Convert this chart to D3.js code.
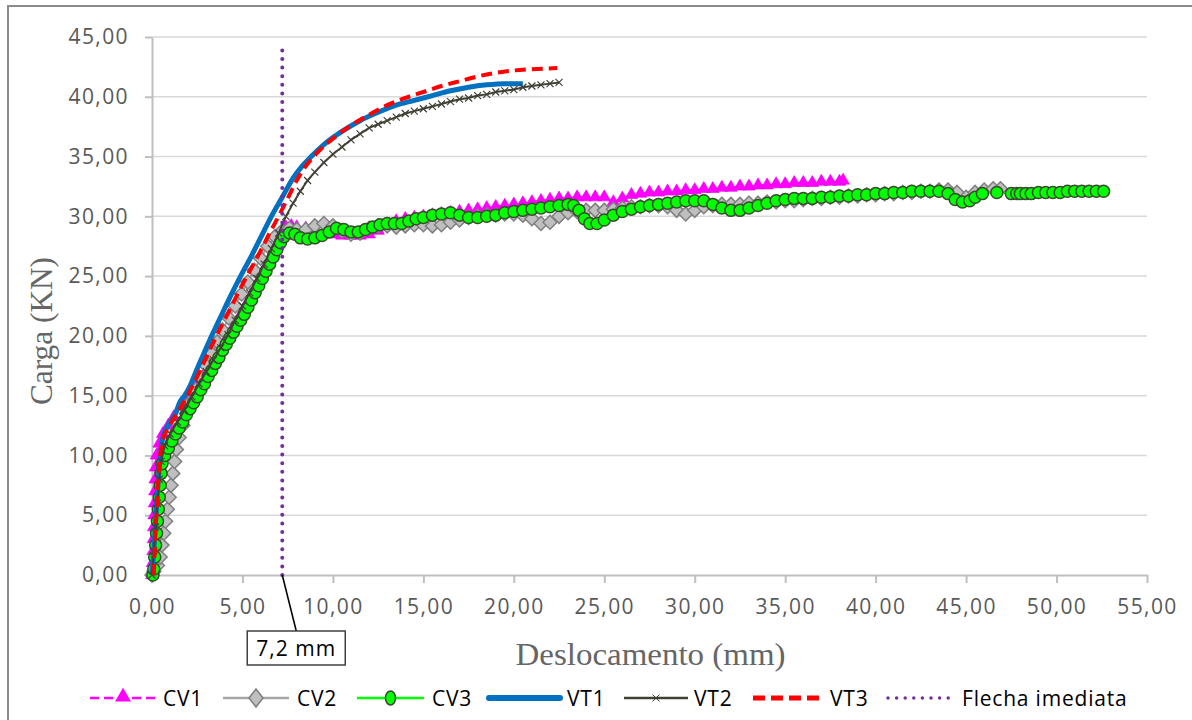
<!DOCTYPE html>
<html><head><meta charset="utf-8">
<script src="https://cdn.jsdelivr.net/npm/d3@7"></script>
<style>body{margin:0;background:#fff}</style>
</head><body>
<svg id="chart" width="1192" height="720"></svg>
<script>
// ---------- DATA ----------
const xTicks = [0,5,10,15,20,25,30,35,40,45,50,55];
const yTicks = [0,5,10,15,20,25,30,35,40,45];
const seriesNames = ["CV1","CV2","CV3","VT1","VT2","VT3","Flecha imediata"];
const flechaX = 7.2;
const flechaY = [0,44];
const flechaLabel = "7,2 mm";

const CV1 = [[0,0],[0.03,1],[0.06,2],[0.08,3],[0.1,4],[0.12,5],[0.14,6],[0.16,7],[0.18,8],[0.2,9],[0.25,10],[0.4,11],[0.6,11.8],[0.9,12.5],[1.2,13.2],[1.6,14.1],[2.0,15.0],[2.4,15.8],[2.8,16.6],[3.2,17.5],[3.6,18.5],[4.0,19.5],[4.4,20.5],[4.8,21.5],[5.2,22.6],[5.6,23.7],[6.0,24.9],[6.4,26.1],[6.8,27.4],[7.1,28.5],[7.4,29.1],[7.7,29.2],[8.0,29.1],[8.5,29.0],[9.0,28.8],[9.5,28.6],[10.0,28.5],[10.5,28.4],[11.0,28.4],[11.5,28.4],[12.0,28.5],[12.5,28.8],[13.0,29.2],[13.5,29.6],[14.0,29.8],[14.5,29.9],[15.0,30.0],[15.5,30.1],[16.0,30.2],[16.5,30.3],[17.0,30.4],[17.5,30.5],[18.0,30.6],[18.5,30.7],[19.0,30.8],[19.5,30.9],[20.0,31.0],[20.5,31.1],[21.0,31.2],[21.5,31.3],[22.0,31.4],[22.5,31.5],[23.0,31.5],[23.5,31.6],[24.0,31.6],[24.5,31.6],[25.0,31.6],[25.5,31.2],[26.0,31.5],[26.5,31.8],[27.0,31.9],[27.5,32.0],[28.0,32.0],[28.5,32.1],[29.0,32.1],[29.5,32.2],[30.0,32.2],[30.5,32.3],[31.0,32.3],[31.5,32.4],[32.0,32.4],[32.5,32.5],[33.0,32.5],[33.5,32.6],[34.0,32.6],[34.5,32.7],[35.0,32.7],[35.5,32.8],[36.0,32.8],[36.5,32.8],[37.0,32.9],[37.5,32.9],[38.0,32.9],[38.2,33.0]];

const CV2 = [[0,0],[0.1,0.3],[0.3,0.8],[0.45,1.5],[0.55,2.5],[0.65,3.5],[0.75,4.5],[0.85,5.5],[0.95,6.5],[1.05,7.5],[1.15,8.5],[1.25,9.5],[1.35,10.5],[1.5,11.5],[1.7,12.5],[1.9,13.5],[2.15,14.5],[2.4,15.5],[2.7,16.5],[3.0,17.5],[3.3,18.5],[3.6,19.5],[3.9,20.5],[4.25,21.5],[4.6,22.5],[4.95,23.5],[5.3,24.5],[5.65,25.5],[6.0,26.5],[6.4,27.5],[6.8,28.3],[7.2,28.8],[7.6,29.0],[8.0,28.9],[8.5,28.9],[9.0,29.2],[9.5,29.4],[10.0,29.2],[10.5,28.8],[11.0,28.5],[11.5,28.6],[12.0,29.0],[12.5,29.2],[13.0,29.2],[13.5,29.1],[14.0,29.2],[14.5,29.3],[15.0,29.3],[15.5,29.2],[16.0,29.3],[16.5,29.5],[17.0,29.7],[17.5,29.9],[18.0,30.0],[18.5,30.1],[19.0,30.1],[19.5,30.2],[20.0,30.2],[20.5,30.1],[21.0,29.8],[21.5,29.4],[22.0,29.5],[22.5,30.0],[23.0,30.3],[23.5,30.4],[24.0,30.5],[24.5,30.5],[25.0,30.5],[25.5,30.6],[26.0,30.7],[26.5,30.8],[27.0,30.8],[27.5,30.9],[28.0,30.9],[28.5,30.8],[29.0,30.5],[29.5,30.2],[30.0,30.5],[30.5,30.8],[31.0,30.9],[31.5,31.0],[32.0,31.0],[32.5,31.0],[33.0,31.1],[33.5,31.1],[34.0,31.2],[34.5,31.2],[35.0,31.3],[35.5,31.3],[36.0,31.4],[36.5,31.5],[37.0,31.5],[37.5,31.6],[38.0,31.6],[38.5,31.7],[39.0,31.7],[39.5,31.8],[40.0,31.8],[40.5,31.9],[41.0,31.9],[41.5,32.0],[42.0,32.0],[42.5,32.1],[43.0,32.1],[43.5,32.2],[44.0,32.2],[44.5,32.0],[45.0,31.6],[45.5,32.0],[46.0,32.2],[46.5,32.3],[46.9,32.3]];

const CV3 = [[0.05,0],[0.1,0.5],[0.15,1.5],[0.2,2.5],[0.25,3.5],[0.3,4.5],[0.35,5.5],[0.4,6.5],[0.45,7.5],[0.5,8.5],[0.55,9.3],[0.7,10.0],[0.9,10.6],[1.1,11.2],[1.3,11.8],[1.5,12.3],[1.7,12.8],[1.9,13.4],[2.1,13.9],[2.3,14.4],[2.5,14.9],[2.7,15.5],[2.9,16.0],[3.1,16.6],[3.3,17.1],[3.5,17.7],[3.7,18.2],[3.9,18.8],[4.1,19.3],[4.3,19.8],[4.5,20.3],[4.7,20.8],[4.9,21.3],[5.1,21.8],[5.3,22.4],[5.5,23.0],[5.7,23.6],[5.9,24.2],[6.1,24.8],[6.3,25.4],[6.5,26.0],[6.7,26.6],[6.9,27.2],[7.1,27.8],[7.3,28.3],[7.6,28.6],[7.9,28.5],[8.2,28.2],[8.6,28.1],[9.0,28.2],[9.4,28.4],[9.8,28.7],[10.2,29.0],[10.6,28.9],[11.0,28.7],[11.4,28.7],[11.8,28.9],[12.2,29.1],[12.6,29.3],[13.0,29.4],[13.4,29.4],[13.8,29.4],[14.2,29.6],[14.6,29.8],[15.0,29.9],[15.5,30.1],[16.0,30.2],[16.5,30.3],[17.0,30.1],[17.5,29.9],[18.0,29.9],[18.5,30.0],[19.0,30.1],[19.5,30.3],[20.0,30.4],[20.5,30.5],[21.0,30.6],[21.5,30.7],[22.0,30.8],[22.5,30.9],[23.0,31.0],[23.3,30.9],[23.6,30.5],[23.9,29.8],[24.2,29.4],[24.6,29.4],[25.0,29.7],[25.5,30.1],[26.0,30.4],[26.5,30.6],[27.0,30.8],[27.5,30.9],[28.0,31.0],[28.5,31.1],[29.0,31.2],[29.5,31.3],[30.0,31.3],[30.5,31.3],[31.0,31.0],[31.5,30.7],[32.0,30.5],[32.5,30.5],[33.0,30.7],[33.5,30.9],[34.0,31.1],[34.5,31.3],[35.0,31.4],[35.5,31.5],[36.0,31.5],[36.5,31.5],[37.0,31.6],[37.5,31.6],[38.0,31.7],[38.5,31.7],[39.0,31.8],[39.5,31.8],[40.0,31.9],[40.5,31.9],[41.0,32.0],[41.5,32.0],[42.0,32.1],[42.5,32.1],[43.0,32.1],[43.5,32.1],[44.0,31.9],[44.4,31.4],[44.8,31.2],[45.2,31.3],[45.5,31.6],[45.9,31.9],[46.7,32.0],[47.5,31.9],[47.8,31.9],[48.0,31.9],[48.3,31.9],[48.6,31.9],[49.0,32.0],[49.4,32.0],[49.8,32.0],[50.2,32.0],[50.6,32.1],[51.0,32.1],[51.4,32.1],[51.8,32.1],[52.2,32.1],[52.6,32.1]];

const VT1 = [[0,0],[0.1,2],[0.2,4.5],[0.3,7],[0.4,9],[0.5,10.5],[0.6,11.5],[0.8,12.3],[1.0,12.8],[1.3,13.5],[1.55,14.5],[1.8,15.0],[2.1,15.8],[2.4,16.9],[2.8,18.3],[3.3,20.0],[3.8,21.6],[4.3,23.2],[4.9,25.0],[5.5,26.7],[6.0,28.2],[6.6,30.0],[7.2,31.6],[7.8,33.2],[8.3,34.2],[8.8,35.0],[9.5,36.0],[10.5,37.1],[11.5,38.0],[12.5,38.7],[13.5,39.3],[14.5,39.7],[15.5,40.1],[16.5,40.5],[17.5,40.8],[18.5,41.0],[19.5,41.1],[20.5,41.1]];

const VT2 = [[0,0],[0.1,2],[0.2,4],[0.3,6],[0.4,8],[0.5,9.5],[0.7,10.8],[1.0,11.8],[1.4,12.8],[1.8,13.8],[2.2,14.9],[2.6,16.0],[3.0,17.0],[3.4,18.0],[3.8,19.0],[4.2,20.1],[4.6,21.3],[5.0,22.5],[5.4,23.6],[5.8,24.8],[6.2,26.0],[6.6,27.3],[7.0,28.6],[7.4,30.0],[7.8,31.1],[8.2,32.1],[8.6,33.0],[9.0,33.7],[9.5,34.5],[10.0,35.2],[10.5,35.8],[11.0,36.4],[11.5,36.9],[12.0,37.4],[12.5,37.7],[13.0,38.0],[13.5,38.3],[14.0,38.6],[14.5,38.8],[15.0,39.0],[15.5,39.2],[16.0,39.4],[16.5,39.6],[17.0,39.8],[17.5,39.9],[18.0,40.1],[18.5,40.2],[19.0,40.4],[19.5,40.5],[20.0,40.6],[20.5,40.8],[21.0,40.9],[21.5,41.0],[22.0,41.1],[22.5,41.2]];

const VT3 = [[0.1,0],[0.15,2],[0.2,4],[0.3,6],[0.35,8],[0.45,10],[0.6,11.3],[0.9,12.3],[1.3,13.3],[1.7,14.3],[2.1,15.4],[2.5,16.6],[3.0,18.2],[3.5,19.8],[4.0,21.3],[4.5,22.8],[5.0,24.3],[5.5,25.7],[6.0,27.1],[6.5,28.6],[7.0,30.0],[7.5,31.5],[8.0,33.0],[8.5,34.2],[9.0,35.1],[10.0,36.5],[11.0,37.6],[12.0,38.5],[13.0,39.3],[14.0,39.9],[15.0,40.4],[16.0,40.9],[17.0,41.3],[18.0,41.7],[19.0,42.0],[20.0,42.2],[21.0,42.3],[22.4,42.4]];

// ---------- CHART ----------
const svg = d3.select("#chart");
const W = 1192, H = 720;
const plot = {left:152, right:1147, top:37, bottom:575};
const x = d3.scaleLinear().domain([0,55]).range([plot.left, plot.right]);
const y = d3.scaleLinear().domain([0,45]).range([plot.bottom, plot.top]);
const fmt = v => d3.format(".2f")(v).replace(".", ",");
const tickFont = "'Open Sans', 'Noto Sans', sans-serif";
const serif = "'Liberation Serif', 'DejaVu Serif', serif";

svg.append("rect").attr("x",0).attr("y",0).attr("width",W).attr("height",H).attr("fill","#fff");
svg.append("rect").attr("x",8).attr("y",6).attr("width",W+20).attr("height",H+20)
  .attr("fill","none").attr("stroke","#8c8c8c").attr("stroke-width",2);

// gridlines
svg.append("g").selectAll("line").data(yTicks.filter(d=>d>0)).join("line")
  .attr("x1",plot.left).attr("x2",plot.right).attr("y1",d=>y(d)).attr("y2",d=>y(d))
  .attr("stroke","#d9d9d9").attr("stroke-width",1.5);

// axes
const xAxis = svg.append("g").attr("transform",`translate(0,${plot.bottom})`)
  .call(d3.axisBottom(x).tickValues(xTicks).tickFormat(fmt).tickSize(8).tickSizeOuter(0).tickPadding(16));
const yAxis = svg.append("g").attr("transform",`translate(${plot.left},0)`)
  .call(d3.axisLeft(y).tickValues(yTicks).tickFormat(fmt).tickSize(7).tickSizeOuter(0).tickPadding(16));
[xAxis,yAxis].forEach(a=>{
  a.select(".domain").attr("stroke","#bfbfbf").attr("stroke-width",2);
  a.selectAll(".tick line").attr("stroke","#bfbfbf").attr("stroke-width",2);
  a.selectAll(".tick text").attr("fill","#595959").style("font-family",tickFont)
    .style("font-size","21px").style("letter-spacing","1.4px");
});

// axis titles
svg.append("text").attr("x",(plot.left+plot.right)/2+1).attr("y",665).attr("text-anchor","middle")
  .attr("textLength",270).attr("lengthAdjust","spacingAndGlyphs")
  .style("font-family",serif).style("font-size","32px").attr("fill","#666").text("Deslocamento (mm)");
svg.append("text").attr("transform","translate(52,331) rotate(-90)").attr("text-anchor","middle")
  .attr("textLength",148).attr("lengthAdjust","spacingAndGlyphs")
  .style("font-family",serif).style("font-size","32px").attr("fill","#666").text("Carga (KN)");

const line = d3.line().x(d=>x(d[0])).y(d=>y(d[1]));
const smooth = d3.line().x(d=>x(d[0])).y(d=>y(d[1])).curve(d3.curveMonotoneX);
const g = svg.append("g");

// marker shapes
const triPath = d3.symbol(d3.symbolTriangle, 70)();
const diaPath = "M0,-7L7,0L0,7L-7,0Z";
const crossPath = "M-3.5,-3.5L3.5,3.5M-3.5,3.5L3.5,-3.5";

// CV1
g.append("path").datum(CV1).attr("d",line).attr("fill","none").attr("stroke","#ff00ff")
  .attr("stroke-width",2).attr("stroke-dasharray","8,4");
g.append("g").selectAll("path").data(CV1).join("path").attr("d",triPath)
  .attr("transform",d=>`translate(${x(d[0])},${y(d[1])})`).attr("fill","#ff00ff").attr("stroke","#e600e6").attr("stroke-width",0.6);
// CV2
g.append("path").datum(CV2).attr("d",line).attr("fill","none").attr("stroke","#a6a6a6").attr("stroke-width",2);
g.append("g").selectAll("path").data(CV2).join("path").attr("d",diaPath)
  .attr("transform",d=>`translate(${x(d[0])},${y(d[1])})`).attr("fill","#bfbfbf").attr("stroke","#7f7f7f").attr("stroke-width",1.5);
// CV3
g.append("path").datum(CV3).attr("d",line).attr("fill","none").attr("stroke","#00ff00").attr("stroke-width",2);
g.append("g").selectAll("circle").data(CV3).join("circle")
  .attr("cx",d=>x(d[0])).attr("cy",d=>y(d[1])).attr("r",6)
  .attr("fill","#00ff00").attr("stroke","#3a4a2e").attr("stroke-width",1.5);
// VT1
g.append("path").datum(VT1).attr("d",smooth).attr("fill","none").attr("stroke","#0070c0")
  .attr("stroke-width",5).attr("stroke-linejoin","round");
// VT2
g.append("path").datum(VT2).attr("d",line).attr("fill","none").attr("stroke","#404035").attr("stroke-width",2);
g.append("g").selectAll("path").data(VT2).join("path").attr("d",crossPath)
  .attr("transform",d=>`translate(${x(d[0])},${y(d[1])})`).attr("fill","none").attr("stroke","#404035").attr("stroke-width",1.2);
// VT3
g.append("path").datum(VT3).attr("d",smooth).attr("fill","none").attr("stroke","#ff0000")
  .attr("stroke-width",4).attr("stroke-dasharray","11,6");
// Flecha imediata
g.append("line").attr("x1",x(flechaX)).attr("x2",x(flechaX)).attr("y1",y(flechaY[0])).attr("y2",y(flechaY[1]))
  .attr("stroke","#7030a0").attr("stroke-width",4).attr("stroke-linecap","round").attr("stroke-dasharray","0,8.6");

// annotation
const bx = x(flechaX)+14, by = 648;
svg.append("line").attr("x1",x(flechaX)).attr("y1",y(0)).attr("x2",bx).attr("y2",by-17)
  .attr("stroke","#000").attr("stroke-width",1.5);
svg.append("rect").attr("x",bx-49).attr("y",by-17).attr("width",98).attr("height",34)
  .attr("fill","#fff").attr("stroke","#404040").attr("stroke-width",1.5);
svg.append("text").attr("x",bx).attr("y",by+8).attr("text-anchor","middle")
  .style("font-family",tickFont).style("font-size","21px").style("letter-spacing","1px").attr("fill","#000").text(flechaLabel);

// legend
const legY = 698;
const legItems = [
  {name:seriesNames[0], x0:90, x1:156, tx:163},
  {name:seriesNames[1], x0:223, x1:289, tx:297},
  {name:seriesNames[2], x0:357, x1:424, tx:432},
  {name:seriesNames[3], x0:489, x1:560, tx:567},
  {name:seriesNames[4], x0:624, x1:688, tx:694},
  {name:seriesNames[5], x0:753, x1:825, tx:830},
  {name:seriesNames[6], x0:888, x1:951, tx:962}
];
const L = svg.append("g");
legItems.forEach((it,i)=>{
  const cx=(it.x0+it.x1)/2;
  const ln = L.append("line").attr("x1",it.x0).attr("x2",it.x1).attr("y1",legY).attr("y2",legY);
  if(i===0){ ln.attr("stroke","#ff00ff").attr("stroke-width",2.5).attr("stroke-dasharray","9,5");
    L.append("path").attr("d",d3.symbol(d3.symbolTriangle,110)()).attr("transform",`translate(${cx},${legY-1})`).attr("fill","#ff00ff"); }
  if(i===1){ ln.attr("stroke","#a6a6a6").attr("stroke-width",2.5);
    L.append("path").attr("d","M0,-9L7,0L0,9L-7,0Z").attr("transform",`translate(${cx},${legY})`).attr("fill","#bfbfbf").attr("stroke","#7f7f7f").attr("stroke-width",1.5); }
  if(i===2){ ln.attr("stroke","#00ff00").attr("stroke-width",2.5);
    L.append("ellipse").attr("cx",cx).attr("cy",legY).attr("rx",5).attr("ry",7).attr("fill","#00ff00").attr("stroke","#3a4a2e").attr("stroke-width",1.5); }
  if(i===3){ ln.attr("stroke","#0070c0").attr("stroke-width",6).attr("stroke-linecap","round"); }
  if(i===4){ ln.attr("stroke","#404035").attr("stroke-width",2.5);
    L.append("path").attr("d",crossPath).attr("transform",`translate(${cx},${legY})`).attr("stroke","#404035").attr("stroke-width",1); }
  if(i===5){ ln.attr("stroke","#ff0000").attr("stroke-width",5).attr("stroke-dasharray","12,6"); }
  if(i===6){ ln.attr("stroke","#7030a0").attr("stroke-width",3.5).attr("stroke-linecap","round").attr("stroke-dasharray","0,8.6"); }
  L.append("text").attr("x",it.tx).attr("y",legY+7.5).style("font-family",tickFont).style("font-size","21px")
    .style("letter-spacing","0.8px").attr("fill","#000").text(it.name);
});
</script>
</body></html>
